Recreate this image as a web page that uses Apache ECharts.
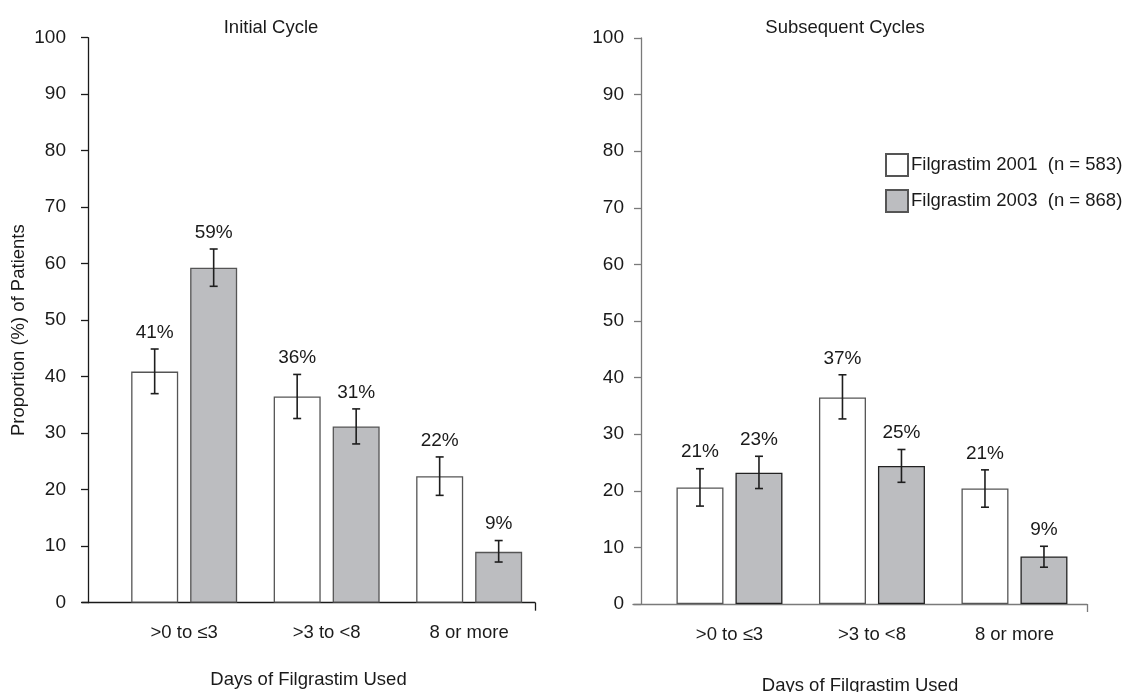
<!DOCTYPE html>
<html>
<head>
<meta charset="utf-8">
<script src="https://cdn.jsdelivr.net/npm/echarts@6/dist/echarts.min.js"></script>
<style>
  html, body { margin: 0; padding: 0; background: #fff; }
  #chart { width: 1132px; height: 692px; }
</style>
</head>
<body>
<div id="chart"></div>
<script>
// categories
const cats = ['>0 to \u22643', '>3 to <8', '8 or more']
const yTicks = [0, 100, 10]

// initial cycle
const init2001 = [40.9, 36.5, 22.4]
const init2001Lo = [37.0, 32.6, 19.0]
const init2001Hi = [44.9, 40.4, 25.8]
const init2001Lbl = [41, 36, 22]
const init2003 = [59.3, 31.2, 9.0]
const init2003Lo = [56.0, 28.1, 7.2]
const init2003Hi = [62.6, 34.3, 11.0]
const init2003Lbl = [59, 31, 9]

// subsequent cycles
const sub2001 = [20.6, 36.5, 20.4]
const sub2001Lo = [17.3, 32.7, 17.1]
const sub2001Hi = [23.9, 40.5, 23.7]
const sub2001Lbl = [21, 37, 21]
const sub2003 = [23.2, 24.4, 8.4]
const sub2003Lo = [20.4, 21.5, 6.5]
const sub2003Hi = [26.1, 27.3, 10.2]
const sub2003Lbl = [23, 25, 9]

const name2001 = 'Filgrastim 2001  (n = 583)'
const name2003 = 'Filgrastim 2003  (n = 868)'

const FONT = '"Liberation Sans Narrow", "Liberation Sans", Arial, sans-serif'
const FS = 18.5
const BAR_W = 47
const SHIFT = 29.5
const GRAY = '#bcbdc0'
const INK = '#1a1a1a'

const chart = echarts.init(document.getElementById('chart'))

function barSeries(idx, name, vals, fill, border) {
  return {
    name, type: 'bar', xAxisIndex: idx, yAxisIndex: idx,
    barWidth: BAR_W, barGap: '25.5%',
    data: vals.map((v, i) => [i + 1, v]),
    itemStyle: { color: fill, borderColor: border, borderWidth: 1.3 },
    silent: true,
  }
}

function errSeries(idx, lo, hi, lbl, shift) {
  return {
    type: 'custom', xAxisIndex: idx, yAxisIndex: idx, silent: true, z: 5,
    data: lo.map((l, i) => [i + 1, l, hi[i]]),
    encode: { x: 0, y: [1, 2] },
    renderItem(params, api) {
      const top = api.coord([api.value(0), api.value(2)])
      const bot = api.coord([api.value(0), api.value(1)])
      const x = top[0] + shift
      const w = 4
      const st = { stroke: '#1e1e1e', lineWidth: 1.6 }
      return {
        type: 'group',
        children: [
          { type: 'line', shape: { x1: x, y1: top[1], x2: x, y2: bot[1] }, style: st },
          { type: 'line', shape: { x1: x - w, y1: top[1], x2: x + w, y2: top[1] }, style: st },
          { type: 'line', shape: { x1: x - w, y1: bot[1], x2: x + w, y2: bot[1] }, style: st },
          {
            type: 'text', x: x, y: top[1] - 7,
            style: { text: lbl[params.dataIndex] + '%', textAlign: 'center', textVerticalAlign: 'bottom', fill: INK, fontSize: FS + 0.5, fontFamily: FONT },
          },
        ],
      }
    },
  }
}

function xAxis(idx, min, max, color, gap) {
  return {
    type: 'value', gridIndex: idx, min, max,
    axisLine: { show: true, lineStyle: { color, width: 1.3 } },
    axisTick: { show: true, customValues: [max], length: 8, lineStyle: { color, width: 1.3 } },
    axisLabel: { customValues: [1, 2, 3], formatter: v => cats[Math.round(v) - 1], color: INK, fontSize: FS, fontFamily: FONT, margin: 21 },
    splitLine: { show: false },
    name: 'Days of Filgrastim Used', nameLocation: 'middle', nameGap: gap,
    nameTextStyle: { color: INK, fontSize: FS, fontFamily: FONT },
  }
}

function yAxis(idx, color, off, margin, withName) {
  return {
    type: 'value', gridIndex: idx, min: yTicks[0], max: yTicks[1], interval: yTicks[2], offset: off,
    axisLine: { show: true, lineStyle: { color, width: 1.3 } },
    axisTick: { show: true, length: 7, lineStyle: { color, width: 1.3 } },
    axisLabel: { color: INK, fontSize: FS + 0.5, fontFamily: FONT, margin },
    splitLine: { show: false },
    name: withName ? 'Proportion (%) of Patients' : '',
    nameLocation: 'middle', nameGap: 60, nameRotate: 90,
    nameTextStyle: { color: INK, fontSize: FS, fontFamily: FONT, padding: [0, 0, 0, -20] },
  }
}

chart.setOption({
  animation: false,
  textStyle: { fontFamily: FONT },
  title: [
    { text: 'Initial Cycle', left: 266, top: 13, textAlign: 'center', textStyle: { fontWeight: 'normal', fontSize: FS, color: INK, fontFamily: FONT } },
    { text: 'Subsequent Cycles', left: 840, top: 13, textAlign: 'center', textStyle: { fontWeight: 'normal', fontSize: FS, color: INK, fontFamily: FONT } },
  ],
  legend: {
    orient: 'vertical', left: 880, top: 148, itemWidth: 22, itemHeight: 22, itemGap: 12,
    icon: 'rect', data: [name2001, name2003],
    textStyle: { color: INK, fontSize: FS, fontFamily: FONT, padding: [0, 0, 0, -2] },
  },
  grid: [
    { left: 82, top: 37.7, width: 453, height: 565, outerBoundsMode: 'none', containLabel: false },
    { left: 633, top: 38, width: 454, height: 566, outerBoundsMode: 'none', containLabel: false },
  ],
  xAxis: [
    xAxis(0, 0.283, 3.462, INK, 68),
    xAxis(1, 0.323, 3.509, '#7a7a7a', 72),
  ],
  yAxis: [
    yAxis(0, INK, -6, 22, true),
    yAxis(1, '#7a7a7a', -8, 17, false),
  ],
  series: [
    barSeries(0, name2001, init2001, '#ffffff', '#555'),
    barSeries(0, name2003, init2003, GRAY, '#555'),
    errSeries(0, init2001Lo, init2001Hi, init2001Lbl, -SHIFT),
    errSeries(0, init2003Lo, init2003Hi, init2003Lbl, SHIFT),
    barSeries(1, name2001, sub2001, '#ffffff', '#555'),
    barSeries(1, name2003, sub2003, GRAY, '#222'),
    errSeries(1, sub2001Lo, sub2001Hi, sub2001Lbl, -SHIFT),
    errSeries(1, sub2003Lo, sub2003Hi, sub2003Lbl, SHIFT),
  ],
})
</script>
</body>
</html>
